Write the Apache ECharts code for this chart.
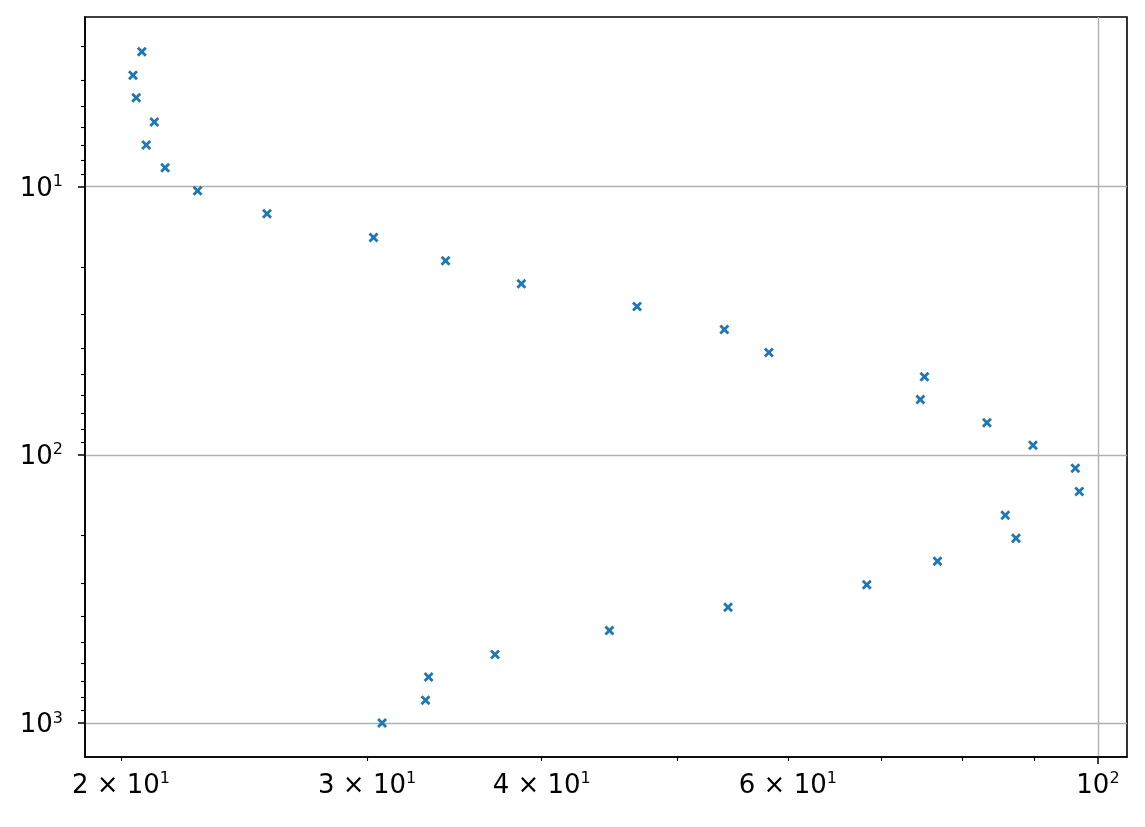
<!DOCTYPE html>
<html>
<head>
<meta charset="utf-8">
<script src="https://cdn.jsdelivr.net/npm/echarts@6/dist/echarts.min.js"></script>
<style>
  html, body { margin: 0; padding: 0; background: #fff; }
  #chart { width: 1145px; height: 827px; }
</style>
</head>
<body>
<div id="chart"></div>
<script>
// values (log-log, y inverted)
const xValues = [20.70, 20.40, 20.51, 21.13, 20.85, 21.51, 22.69, 25.44, 30.32, 34.14,
  38.68, 46.80, 54.04, 58.15, 75.14, 74.64, 83.29, 89.85, 96.34, 96.97,
  85.84, 87.37, 76.77, 68.33, 54.37, 44.72, 37.04, 33.20, 33.03, 30.75]
const yValues = [3.14, 3.84, 4.66, 5.74, 6.99, 8.50, 10.35, 12.61, 15.49, 18.91,
  23.03, 27.99, 34.09, 41.52, 51.14, 62.14, 75.87, 92.18, 112.3, 137.1,
  168.0, 204.6, 249.3, 305.4, 369.8, 451.6, 554.9, 674.2, 823.2, 1000]

// tick positions
const xMinorTicks = [20, 30, 40, 50, 60, 70, 80, 90]
const xMajorTicks = [100]
const xTickLabels = [20, 30, 40, 60, 100]
const yMajorTicks = [10, 100, 1000]
const yMinorTicks = [3, 4, 5, 6, 7, 8, 9, 20, 30, 40, 50, 60, 70, 80, 90,
  200, 300, 400, 500, 600, 700, 800, 900]

const xRange = [18.85, 104.9]
const yRange = [2.33, 1339]

const FONT = 'DejaVu Sans'
const richText = {
  m: { fontFamily: FONT, fontSize: 26, color: '#000', lineHeight: 30 },
  s: { fontFamily: FONT, fontSize: 16, color: '#000', lineHeight: 17, verticalAlign: 'top' }
}

// matplotlib-like mathtext labels: 2×10^1, 10^2
function sciLabel (v) {
  let exp = Math.floor(Math.log10(v) + 1e-9)
  let mant = Math.round(v / Math.pow(10, exp))
  if (mant === 1) return '{m|10}{s|' + exp + '}'
  return '{m|' + mant + ' \u00d7 10}{s|' + exp + '}'
}

let points = xValues.map((x, i) => [x, yValues[i]])

let chart = echarts.init(document.getElementById('chart'))
let option = {
  animation: false,
  backgroundColor: '#fff',
  grid: {
    left: 85, right: 18, top: 17, bottom: 70,
    show: true, borderColor: '#000', borderWidth: 1.6, backgroundColor: 'transparent'
  },
  xAxis: [
    {
      // major ticks + grid lines + labels
      type: 'log', logBase: 10, min: xRange[0], max: xRange[1], position: 'bottom',
      axisLine: { show: true, onZero: false, lineStyle: { color: '#000', width: 1.6 } },
      axisTick: { show: true, customValues: xMajorTicks, length: 7, lineStyle: { color: '#000', width: 1.5 } },
      axisLabel: { show: true, customValues: xTickLabels, margin: 14, formatter: sciLabel, rich: richText },
      splitLine: { show: true, lineStyle: { color: '#b0b0b0', width: 1.4 } }
    },
    {
      // minor ticks only
      type: 'log', logBase: 10, min: xRange[0], max: xRange[1], position: 'bottom', offset: 0,
      axisLine: { show: false, onZero: false },
      axisTick: { show: true, customValues: xMinorTicks, length: 4, lineStyle: { color: '#000', width: 1.1 } },
      axisLabel: { show: false },
      splitLine: { show: false }
    }
  ],
  yAxis: [
    {
      type: 'log', logBase: 10, min: yRange[0], max: yRange[1], inverse: true, position: 'left',
      axisLine: { show: true, onZero: false, lineStyle: { color: '#000', width: 1.6 } },
      axisTick: { show: true, customValues: yMajorTicks, length: 7, lineStyle: { color: '#000', width: 1.5 } },
      axisLabel: { show: true, customValues: yMajorTicks, margin: 22, padding: [5, 0, 0, 0], formatter: sciLabel, rich: richText },
      splitLine: { show: true, lineStyle: { color: '#b0b0b0', width: 1.4 } }
    },
    {
      type: 'log', logBase: 10, min: yRange[0], max: yRange[1], inverse: true, position: 'left', offset: 0,
      axisLine: { show: false, onZero: false },
      axisTick: { show: true, customValues: yMinorTicks, length: 4, lineStyle: { color: '#000', width: 1.1 } },
      axisLabel: { show: false },
      splitLine: { show: false }
    }
  ],
  series: [
    {
      type: 'scatter',
      xAxisIndex: 0,
      yAxisIndex: 0,
      data: points,
      symbol: 'path://M0,2L2,0L5,3L8,0L10,2L7,5L10,8L8,10L5,7L2,10L0,8L3,5Z',
      symbolSize: 10,
      itemStyle: { color: '#1f77b4', opacity: 1 },
      z: 5
    }
  ]
}
chart.setOption(option)
</script>
</body>
</html>
